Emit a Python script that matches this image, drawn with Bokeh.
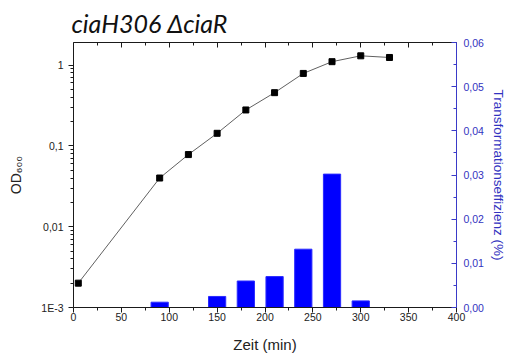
from bokeh.embed import file_html
from bokeh.models import (CustomJSTickFormatter, FixedTicker, LinearAxis,
                          LinearScale, Range1d)
from bokeh.plotting import figure
from bokeh.resources import INLINE

# Growth curve (OD600, log scale)
time_od = [5, 90, 120, 150, 180, 210, 240, 270, 300, 330]
od600 = [0.002, 0.040, 0.078, 0.143, 0.278, 0.455, 0.787, 1.10, 1.30, 1.24]

# Transformation efficiency (%) per sampling time
time_tf = [90, 150, 180, 210, 240, 270, 300]
transformation = [0.0012, 0.0025, 0.0060, 0.0070, 0.0132, 0.0302, 0.0015]

# Axis ticks
time_ticks = [0, 50, 100, 150, 200, 250, 300, 350, 400]
time_minor = [25, 75, 125, 175, 225, 275, 325, 375]
od_ticks = [0.001, 0.01, 0.1, 1]
od_tick_labels = ["1E-3", "0,01", "0,1", "1"]
od_minor = [k * 10 ** e for e in range(-3, 1) for k in range(2, 10) if k * 10 ** e < 1.9]
tf_ticks = [0.0, 0.01, 0.02, 0.03, 0.04, 0.05, 0.06]
tf_minor = [0.005, 0.015, 0.025, 0.035, 0.045, 0.055]

FONT = "Liberation Sans"
BLUE_AXIS = "#3a3ac8"
BLUE_TEXT = "#3232c0"

p = figure(width=514, height=358,
           x_range=Range1d(0, 400), y_range=Range1d(0.001, 1.9),
           y_axis_type="log", output_backend="svg", toolbar_location=None,
           min_border_left=73, min_border_right=58,
           min_border_top=42, min_border_bottom=51)
p.xgrid.visible = False
p.ygrid.visible = False
p.outline_line_color = None

# chart title
p.title.text = "ciaH306 \u0394ciaR"
p.title.align = "left"
p.title.offset = -2
p.title.text_font = "Lato"
p.title.text_font_style = "italic"
p.title.text_font_size = "25px"
p.title.text_color = "#111111"
p.title.standoff = 10

p.extra_y_ranges = {"tf": Range1d(0, 0.06)}
p.extra_y_scales = {"tf": LinearScale()}

# bottom axis: time
xa = p.xaxis[0]
xa.ticker = FixedTicker(ticks=time_ticks, minor_ticks=time_minor)
xa.axis_label = "Zeit (min)"
xa.axis_label_text_font = FONT
xa.axis_label_text_font_size = "15px"
xa.axis_label_text_font_style = "normal"
xa.axis_label_text_color = "#222222"
xa.axis_label_standoff = 12
xa.major_label_text_font = FONT
xa.major_label_text_font_size = "10.5px"
xa.major_label_text_color = "#222222"
xa.major_label_standoff = 0
xa.major_tick_in, xa.major_tick_out = 0, 5
xa.minor_tick_in, xa.minor_tick_out = 0, 3
xa.axis_line_color = "#1a1a1a"
xa.major_tick_line_color = "#1a1a1a"
xa.minor_tick_line_color = "#1a1a1a"

# left axis: OD600 (log)
ya = p.yaxis[0]
ya.ticker = FixedTicker(ticks=od_ticks, minor_ticks=od_minor)
ya.major_label_overrides = dict(zip(od_ticks, od_tick_labels))
ya.axis_label = "OD\u2086\u2080\u2080"
ya.axis_label_text_font = FONT
ya.axis_label_text_font_size = "14px"
ya.axis_label_text_font_style = "normal"
ya.axis_label_text_color = "#222222"
ya.axis_label_standoff = 14
ya.major_label_text_font = FONT
ya.major_label_text_font_size = "10.5px"
ya.major_label_text_color = "#222222"
ya.major_label_standoff = 5
ya.major_tick_in, ya.major_tick_out = 0, 5
ya.minor_tick_in, ya.minor_tick_out = 0, 3
ya.axis_line_color = "#1a1a1a"
ya.major_tick_line_color = "#1a1a1a"
ya.minor_tick_line_color = "#1a1a1a"

# top axis: ticks only
top = LinearAxis(ticker=FixedTicker(ticks=time_ticks, minor_ticks=time_minor),
                 formatter=CustomJSTickFormatter(code="return ''"),
                 major_label_text_font_size="0px",
                 major_tick_in=5, major_tick_out=0, minor_tick_in=3, minor_tick_out=0,
                 axis_line_color="#1a1a1a", major_tick_line_color="#1a1a1a",
                 minor_tick_line_color="#1a1a1a", major_label_standoff=0)
p.add_layout(top, "above")

# right axis: transformation efficiency
right = LinearAxis(y_range_name="tf",
                   ticker=FixedTicker(ticks=tf_ticks, minor_ticks=tf_minor),
                   formatter=CustomJSTickFormatter(code="return tick.toFixed(2).replace('.', ',')"),
                   axis_label="Transformationseffizienz (%)",
                   axis_label_text_font=FONT, axis_label_text_font_size="13.5px",
                   axis_label_text_font_style="normal", axis_label_text_color=BLUE_TEXT,
                   axis_label_standoff=4,
                   major_label_text_font=FONT, major_label_text_font_size="10.5px",
                   major_label_text_color=BLUE_TEXT, major_label_standoff=7,
                   major_tick_in=5, major_tick_out=0, minor_tick_in=3, minor_tick_out=0,
                   axis_line_color=BLUE_AXIS, major_tick_line_color=BLUE_AXIS,
                   minor_tick_line_color=BLUE_AXIS)
p.add_layout(right, "right")

# bars: transformation efficiency
p.vbar(x=time_tf, top=transformation, bottom=0, width=18, y_range_name="tf",
       fill_color="#0000ff", line_color="#2a2aff", line_width=1)

# growth curve
p.line(time_od, od600, line_color="#606060", line_width=1)
p.scatter(time_od, od600, marker="square", size=6, color="black")

open("out.html", "w").write(file_html(p, INLINE))
